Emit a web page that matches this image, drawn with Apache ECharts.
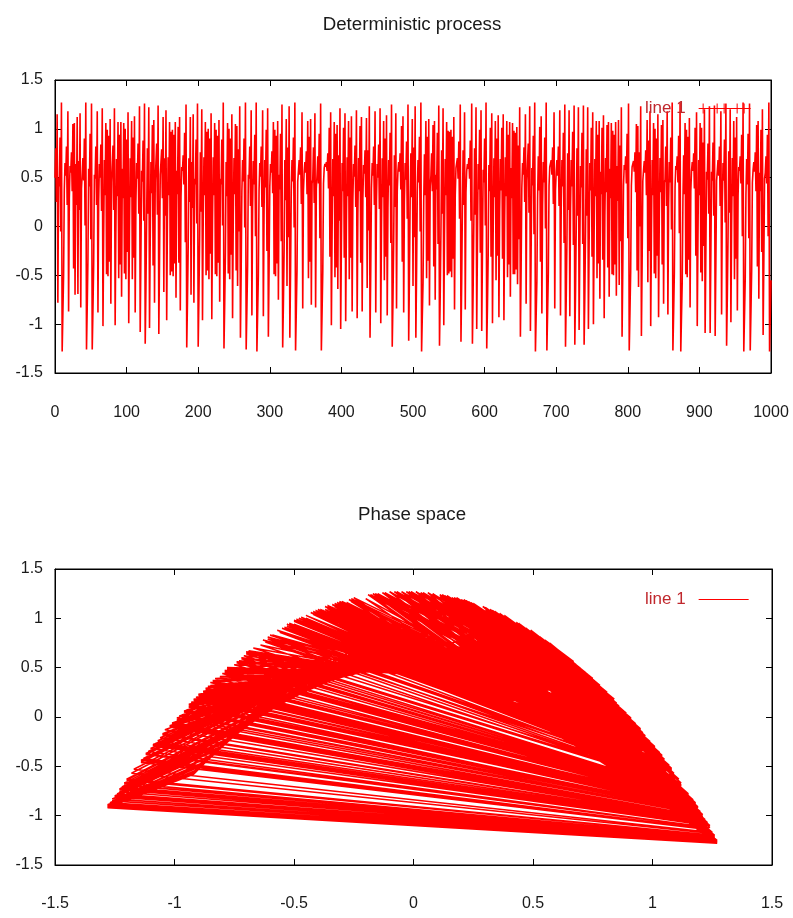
<!DOCTYPE html>
<html>
<head>
<meta charset="utf-8">
<script src="https://cdn.jsdelivr.net/npm/echarts@6/dist/echarts.min.js"></script>
<style>
html,body{margin:0;padding:0;background:#fff;}
#main{width:793px;height:918px;}
</style>
</head>
<body>
<div id="main"></div>
<script>
// Values of the deterministic process, steps 0..1000 (read/estimated from the picture)
const stepsPart1 = [
0.50,0.80,0.25,1.15,-0.78,0.50,0.41,0.91,-0.05,1.27,
-1.28,-0.89,-0.50,0.38,0.65,0.52,0.82,0.22,1.18,-0.87,
0.29,0.62,0.55,0.76,0.36,1.05,-0.43,1.06,-0.70,0.64,
0.22,1.12,-0.69,0.67,0.17,1.16,-0.83,0.39,0.54,0.70,
0.47,0.90,0.01,1.27,-1.26,-0.83,-0.34,0.59,0.41,0.95,
-0.13,1.26,-1.26,-0.85,-0.39,0.53,0.49,0.82,0.22,1.18,
-0.88,0.26,0.64,0.50,0.84,0.16,1.21,-1.02,-0.09,0.68,
0.32,1.06,-0.49,0.99,-0.51,0.93,-0.36,1.10,-0.79,0.46,
0.47,0.83,0.17,1.21,-1.01,-0.06,0.69,0.31,1.07,-0.53,
0.94,-0.39,1.07,-0.72,0.59,0.29,1.06,-0.48,1.00,-0.54,
0.89,-0.26,1.17,-0.99,-0.03,0.70,0.30,1.08,-0.54,0.91,
-0.32,1.13,-0.88,0.25,0.65,0.49,0.85,0.13,1.23,-1.08,
-0.27,0.57,0.46,0.88,0.06,1.26,-1.20,-0.63,0.09,0.80,
0.13,1.22,-1.04,-0.13,0.66,0.34,1.04,-0.40,1.09,-0.78,
0.47,0.45,0.85,0.12,1.24,-1.10,-0.32,0.53,0.52,0.79,
0.29,1.12,-0.67,0.70,0.11,1.19,-0.96,0.06,0.71,0.32,
1.07,-0.50,0.97,-0.46,0.99,-0.51,0.94,-0.38,1.07,-0.73,
0.57,0.33,1.02,-0.37,1.12,-0.86,0.31,0.61,0.57,0.73,
0.43,0.96,-0.16,1.25,-1.24,-0.78,-0.22,0.70,0.25,1.12,
-0.70,0.66,0.19,1.15,-0.78,0.49,0.43,0.89,0.03,1.26,
-1.23,-0.73,-0.11,0.76,0.15,1.20,-0.96,0.06,0.71,0.32,
1.07,-0.50,0.97,-0.45,1.00,-0.54,0.90,-0.28,1.16,-0.95,
0.07,0.71,0.32,1.06,-0.49,0.99,-0.51,0.93,-0.37,1.09,
-0.77,0.49,0.43,0.89,0.01,1.27,-1.25,-0.80,-0.27,0.66,
0.31,1.06,-0.48,1.00,-0.54,0.90,-0.29,1.15,-0.94,0.10
];
const stepsPart2 = [
0.70,0.33,1.05,-0.45,1.03,-0.61,0.79,-0.05,1.23,-1.14,
-0.46,0.36,0.68,0.46,0.90,-0.01,1.27,-1.26,-0.85,-0.40,
0.53,0.49,0.82,0.21,1.19,-0.91,0.20,0.67,0.43,0.94,
-0.10,1.27,-1.28,-0.90,-0.51,0.37,0.65,0.51,0.82,0.20,
1.19,-0.92,0.17,0.68,0.40,0.99,-0.25,1.21,-1.13,-0.42,
0.41,0.64,0.55,0.77,0.34,1.07,-0.49,0.99,-0.51,0.93,
-0.38,1.08,-0.75,0.53,0.38,0.95,-0.15,1.25,-1.24,-0.79,
-0.24,0.68,0.27,1.10,-0.61,0.81,-0.11,1.23,-1.14,-0.46,
0.36,0.68,0.46,0.91,-0.01,1.27,-1.27,-0.87,-0.45,0.46,
0.57,0.68,0.53,0.81,0.23,1.17,-0.84,0.36,0.56,0.66,
0.55,0.77,0.33,1.08,-0.53,0.92,-0.36,1.10,-0.80,0.44,
0.48,0.81,0.24,1.16,-0.83,0.39,0.53,0.72,0.44,0.95,
-0.12,1.26,-1.27,-0.88,-0.46,0.44,0.60,0.64,0.61,0.66,
0.57,0.75,0.39,1.01,-0.31,1.17,-1.01,-0.07,0.69,0.31,
1.07,-0.52,0.95,-0.42,1.04,-0.64,0.73,0.06,1.21,-1.05,
-0.17,0.65,0.36,1.01,-0.32,1.16,-0.97,0.02,0.71,0.31,
1.08,-0.54,0.91,-0.32,1.13,-0.87,0.27,0.64,0.51,0.83,
0.20,1.19,-0.94,0.13,0.70,0.36,1.03,-0.37,1.12,-0.87,
0.29,0.63,0.54,0.78,0.30,1.11,-0.63,0.78,-0.04,1.23,
-1.14,-0.44,0.39,0.65,0.52,0.82,0.22,1.18,-0.88,0.26,
0.64,0.50,0.84,0.18,1.21,-0.99,-0.01,0.70,0.30,1.08,
-0.55,0.90,-0.31,1.14,-0.91,0.19,0.68,0.42,0.96,-0.17,
1.25,-1.23,-0.76,-0.17,0.73,0.20,1.16,-0.84,0.36,0.57,
0.66,0.56,0.75,0.38,1.03,-0.36,1.13,-0.88,0.25,0.65,
0.48,0.87,0.08,1.25,-1.17,-0.53,0.26,0.75,0.30,1.10
];
const stepsPart3 = [
-0.61,0.81,-0.11,1.23,-1.14,-0.46,0.36,0.68,0.45,0.92,
-0.05,1.27,-1.28,-0.92,-0.58,0.26,0.74,0.32,1.08,-0.53,
0.92,-0.35,1.10,-0.81,0.41,0.52,0.75,0.36,1.04,-0.41,
1.08,-0.75,0.53,0.38,0.96,-0.18,1.24,-1.22,-0.71,-0.07,
0.78,0.13,1.21,-1.01,-0.08,0.69,0.32,1.07,-0.50,0.98,
-0.48,0.97,-0.46,0.99,-0.52,0.92,-0.33,1.12,-0.85,0.32,
0.60,0.59,0.70,0.49,0.87,0.08,1.25,-1.18,-0.57,0.20,
0.78,0.22,1.17,-0.85,0.35,0.57,0.64,0.59,0.70,0.49,
0.88,0.06,1.26,-1.20,-0.64,0.06,0.80,0.12,1.22,-1.05,
-0.18,0.64,0.38,0.99,-0.27,1.19,-1.07,-0.26,0.58,0.45,
0.90,0.01,1.27,-1.25,-0.81,-0.30,0.63,0.36,1.01,-0.31,
1.16,-0.99,-0.03,0.70,0.30,1.08,-0.55,0.90,-0.30,1.14,
-0.93,0.15,0.69,0.37,1.01,-0.33,1.15,-0.96,0.05,0.71,
0.31,1.08,-0.52,0.94,-0.39,1.07,-0.72,0.60,0.29,1.06,
-0.49,0.98,-0.49,0.96,-0.44,1.02,-0.59,0.83,-0.13,1.22,
-1.13,-0.43,0.40,0.65,0.53,0.81,0.25,1.15,-0.79,0.47,
0.46,0.85,0.14,1.23,-1.07,-0.24,0.60,0.42,0.93,-0.08,
1.27,-1.28,-0.92,-0.56,0.29,0.72,0.37,1.02,-0.36,1.13,
-0.89,0.22,0.66,0.45,0.91,-0.02,1.27,-1.27,-0.88,-0.48,
0.42,0.61,0.60,0.68,0.53,0.81,0.23,1.17,-0.84,0.37,
0.56,0.68,0.52,0.82,0.21,1.19,-0.91,0.19,0.68,0.41,
0.96,-0.17,1.25,-1.23,-0.74,-0.14,0.75,0.17,1.19,-0.92,
0.18,0.68,0.41,0.97,-0.19,1.24,-1.21,-0.67,0.00,0.80,
0.11,1.22,-1.06,-0.21,0.62,0.40,0.96,-0.18,1.24,-1.21,
-0.69,-0.04,0.79,0.11,1.22,-1.05,-0.17,0.65,0.37,1.01
];
const stepsPart4 = [
-0.31,1.17,-1.00,-0.06,0.69,0.31,1.08,-0.53,0.94,-0.38,
1.08,-0.74,0.56,0.33,1.01,-0.34,1.14,-0.94,0.11,0.70,
0.35,1.04,-0.42,1.07,-0.72,0.59,0.29,1.06,-0.49,0.98,
-0.50,0.94,-0.39,1.07,-0.71,0.62,0.26,1.09,-0.60,0.83,
-0.15,1.22,-1.13,-0.42,0.42,0.63,0.58,0.72,0.44,0.95,
-0.12,1.26,-1.27,-0.88,-0.47,0.42,0.61,0.61,0.67,0.56,
0.76,0.35,1.05,-0.45,1.03,-0.62,0.76,0.00,1.23,-1.12,
-0.38,0.47,0.58,0.67,0.55,0.78,0.32,1.09,-0.57,0.88,
-0.25,1.18,-1.02,-0.09,0.68,0.32,1.06,-0.48,1.00,-0.53,
0.90,-0.30,1.15,-0.93,0.12,0.70,0.35,1.04,-0.39,1.09,
-0.79,0.45,0.48,0.82,0.21,1.18,-0.90,0.22,0.66,0.45,
0.91,-0.03,1.27,-1.27,-0.89,-0.48,0.41,0.62,0.58,0.72,
0.45,0.93,-0.07,1.27,-1.28,-0.92,-0.57,0.27,0.73,0.33,
1.06,-0.49,0.99,-0.52,0.92,-0.34,1.11,-0.83,0.36,0.57,
0.66,0.57,0.75,0.39,1.01,-0.30,1.17,-1.02,-0.10,0.68,
0.32,1.06,-0.47,1.01,-0.56,0.86,-0.20,1.20,-1.09,-0.29,
0.56,0.48,0.85,0.13,1.23,-1.09,-0.28,0.56,0.47,0.86,
0.11,1.24,-1.12,-0.37,0.47,0.57,0.68,0.52,0.82,0.21,
1.18,-0.90,0.23,0.65,0.47,0.89,0.04,1.26,-1.22,-0.72,
-0.10,0.77,0.14,1.20,-0.98,0.01,0.70,0.31,1.08,-0.54,
0.91,-0.33,1.12,-0.86,0.31,0.61,0.57,0.72,0.44,0.94,
-0.10,1.27,-1.28,-0.91,-0.54,0.33,0.69,0.43,0.95,-0.12,
1.26,-1.27,-0.87,-0.45,0.45,0.58,0.66,0.56,0.76,0.36,
1.04,-0.41,1.08,-0.74,0.55,0.36,0.99,-0.26,1.20,-1.11,
-0.35,0.49,0.55,0.72,0.44,0.94,-0.10,1.27,-1.28,-0.91,
-0.55
];

const chartTitles = ['Deterministic process', 'Phase space'];
const legendLabels = ['line 1', 'line 1'];
const timeRange = [0, 1000, 100];      // min, max, tick step
const valueRange = [-1.5, 1.5, 0.5];   // min, max, tick step

const processValues = [].concat(stepsPart1, stepsPart2, stepsPart3, stepsPart4);
// time series: [step, value]
const timeSeries = processValues.map((v, i) => [i, v]);
// phase space: [x(n), x(n+1)]
const phasePairs = [];
for (let i = 0; i + 1 < processValues.length; i++) {
  phasePairs.push([processValues[i], processValues[i + 1]]);
}

const FONT = "'Liberation Sans', Arial, Helvetica, sans-serif";
const RED = '#ff0000';
const TEXT = '#1a1a1a';
const plainNumber = (v) => String(v);

function axisCommon(range, opts) {
  return Object.assign({
    type: 'value',
    min: range[0], max: range[1], interval: range[2],
    axisLine: { show: true, onZero: false, lineStyle: { color: '#000', width: 1 } },
    axisTick: { show: true, inside: true, length: 6, lineStyle: { color: '#000', width: 1 } },
    splitLine: { show: false },
    axisLabel: { show: true, fontFamily: FONT, fontSize: 16, color: TEXT, formatter: plainNumber }
  }, opts);
}

const chart = echarts.init(document.getElementById('main'), null, { renderer: 'canvas' });

const option = {
  backgroundColor: '#ffffff',
  animation: false,
  textStyle: { fontFamily: FONT },
  title: [
    { text: chartTitles[0], left: 407, top: 10, textAlign: 'center',
      textStyle: { fontFamily: FONT, fontSize: 18.7, fontWeight: 'normal', color: TEXT } },
    { text: chartTitles[1], left: 407, top: 500, textAlign: 'center',
      textStyle: { fontFamily: FONT, fontSize: 18.7, fontWeight: 'normal', color: TEXT } }
  ],
  grid: [
    { left: 55, top: 80, width: 716, height: 293, show: true, borderColor: '#000', borderWidth: 1, backgroundColor: 'transparent' },
    { left: 55, top: 569, width: 717, height: 296, show: true, borderColor: '#000', borderWidth: 1, backgroundColor: 'transparent' }
  ],
  xAxis: [
    axisCommon(timeRange, { gridIndex: 0, position: 'bottom',
      axisLabel: { show: true, margin: 32, fontFamily: FONT, fontSize: 16, color: TEXT, formatter: plainNumber } }),
    axisCommon(timeRange, { gridIndex: 0, position: 'top', axisLabel: { show: false } }),
    axisCommon(valueRange, { gridIndex: 1, position: 'bottom',
      axisLabel: { show: true, margin: 31, fontFamily: FONT, fontSize: 16, color: TEXT, formatter: plainNumber } }),
    axisCommon(valueRange, { gridIndex: 1, position: 'top', axisLabel: { show: false } })
  ],
  yAxis: [
    axisCommon(valueRange, { gridIndex: 0, position: 'left',
      axisLabel: { show: true, margin: 12, fontFamily: FONT, fontSize: 16, color: TEXT, formatter: plainNumber } }),
    axisCommon(valueRange, { gridIndex: 0, position: 'right', axisLabel: { show: false } }),
    axisCommon(valueRange, { gridIndex: 1, position: 'left',
      axisLabel: { show: true, margin: 12, fontFamily: FONT, fontSize: 16, color: TEXT, formatter: plainNumber } }),
    axisCommon(valueRange, { gridIndex: 1, position: 'right', axisLabel: { show: false } })
  ],
  legend: [
    {
      left: 640, top: 95, orient: 'horizontal', align: 'right', selectedMode: false,
      itemWidth: 52, itemHeight: 10, itemGap: 0,
      data: [{ name: legendLabels[0],
        icon: 'path://M0,4.5L52,4.5L52,5.5L0,5.5Z M4,0L5,0L5,10L4,10Z M18,0L19,0L19,10L18,10Z M25,0L26,0L26,10L25,10Z M38,0L39,0L39,10L38,10Z M45,0L46,0L46,10L45,10Z' }],
      textStyle: { fontFamily: FONT, fontSize: 17, color: '#c0282d', padding: [0, 8, 0, 0] }
    },
    {
      left: 640, top: 586, orient: 'horizontal', align: 'right', selectedMode: false,
      itemWidth: 50, itemHeight: 1.6, itemGap: 0,
      data: [{ name: legendLabels[1], icon: 'path://M0,0L50,0L50,1L0,1Z' }],
      textStyle: { fontFamily: FONT, fontSize: 17, color: '#c0282d', padding: [0, 8, 0, 0] }
    }
  ],
  series: [
    {
      name: legendLabels[0], type: 'line', xAxisIndex: 0, yAxisIndex: 0,
      data: timeSeries, showSymbol: false, symbol: 'none', clip: true,
      progressive: 0, sampling: null,
      lineStyle: { color: RED, width: 1.6 }, itemStyle: { color: RED },
      emphasis: { disabled: true }
    },
    {
      name: legendLabels[1], type: 'line', xAxisIndex: 2, yAxisIndex: 2,
      data: phasePairs, showSymbol: false, symbol: 'none', clip: true,
      progressive: 0, sampling: null,
      lineStyle: { color: RED, width: 1.6 }, itemStyle: { color: RED },
      emphasis: { disabled: true }
    }
  ]
};

chart.setOption(option);
</script>
</body>
</html>
